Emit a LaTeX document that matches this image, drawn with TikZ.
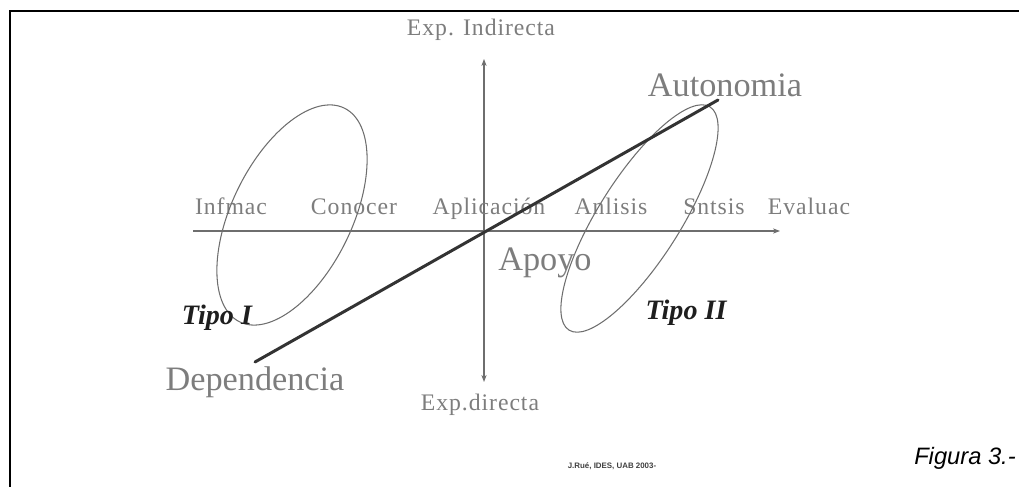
\documentclass[tikz,border=0pt]{standalone}
\usepackage{fontspec}
\setmainfont{Liberation Serif}
\setsansfont{Liberation Sans}
\newfontfamily\spacedserif[LetterSpace=4]{Liberation Serif}
\usepackage{xcolor}
\usetikzlibrary{positioning, arrows.meta, calc}

\definecolor{labelgray}{RGB}{125,125,125}
\definecolor{axisgray}{RGB}{110,110,110}
\definecolor{tipoblack}{RGB}{30,30,30}

\begin{document}
\begin{tikzpicture}[
  x=0.02cm, y=0.02cm,
  axislabel/.style={text=labelgray, inner sep=0pt, anchor=base,
                    font=\spacedserif\fontsize{13.5}{15}\selectfont},
  biglabel/.style={text=labelgray, inner sep=0pt, anchor=base,
                   font=\fontsize{19.5}{22}\selectfont},
  tipolabel/.style={text=tipoblack, inner sep=0pt,
                    font=\bfseries\itshape\fontsize{16}{18}\selectfont},
  axis/.style={axisgray, line width=1.1pt, -{Stealth[length=4pt,width=3pt]}},
  diag/.style={black!80, line width=1.7pt, line cap=round},
  oval/.style={axisgray, line width=0.6pt}
]
\useasboundingbox (0,0) rectangle (1019,487);

% ── Frame ────────────────────────────────────────────────
\draw[line width=1.7pt] (10,0) -- (10,476) -- (1019,476);

% ── Axes ─────────────────────────────────────────────────
\coordinate (xl) at (193,256);
\coordinate (xr) at (780,256);
\coordinate (yt) at (484,428);
\coordinate (yb) at (484,105);
\coordinate (o)  at (484,256);
\draw[axis] (xl) -- (xr);
\draw[axis] (o) -- (yt);
\draw[axis] (o) -- (yb);

% ── Axis labels ──────────────────────────────────────────
\node[axislabel] (expind) at (481,451) {Exp. Indirecta};
\node[axislabel] (expdir) at (480,76)  {Exp.directa};
\node[axislabel] (infmac) at (231,272) {Infmac};
\node[axislabel] (conoc)  at (354,272) {Conocer};
\node[axislabel] (aplic)  at (489,272) {Aplicación};
\node[axislabel] (anlis)  at (611,272) {Anlisis};
\node[axislabel] (sntsis) at (714,272) {Sntsis};
\node[axislabel] (eval)   at (809,272) {Evaluac};

% ── Groups ───────────────────────────────────────────────
\draw[oval, rotate around={63.9:(292,272)}] (292,272) ellipse [x radius=119, y radius=60];
\draw[oval, rotate around={57.7:(639.5,268.5)}] (639.5,268.5) ellipse [x radius=132, y radius=41];
\node[tipolabel] (tipo1) at (217,169) {Tipo I};
\node[tipolabel] (tipo2) at (686,174) {Tipo II};

% ── Dependencia -> Autonomia ─────────────────────────────
\coordinate (dep) at (255,125);
\coordinate (aut) at (718,387);
\draw[diag] (dep) -- (aut);
\node[biglabel] (autlbl) at (725,390) {Autonomia};
\node[biglabel] (deplbl) at (255,96)  {Dependencia};
\node[biglabel] (apoyo)  at (545,216) {Apoyo};

% ── Credits ──────────────────────────────────────────────
\node[inner sep=0pt, text=black!75, font=\sffamily\bfseries\fontsize{4.5}{5}\selectfont]
  (credit) at (612,21) {J.Rué, IDES, UAB 2003-};
\node[inner sep=0pt, font=\sffamily\itshape\fontsize{13.5}{15}\selectfont]
  (fig) at (965,29) {Figura 3.-};

\end{tikzpicture}
\end{document}
